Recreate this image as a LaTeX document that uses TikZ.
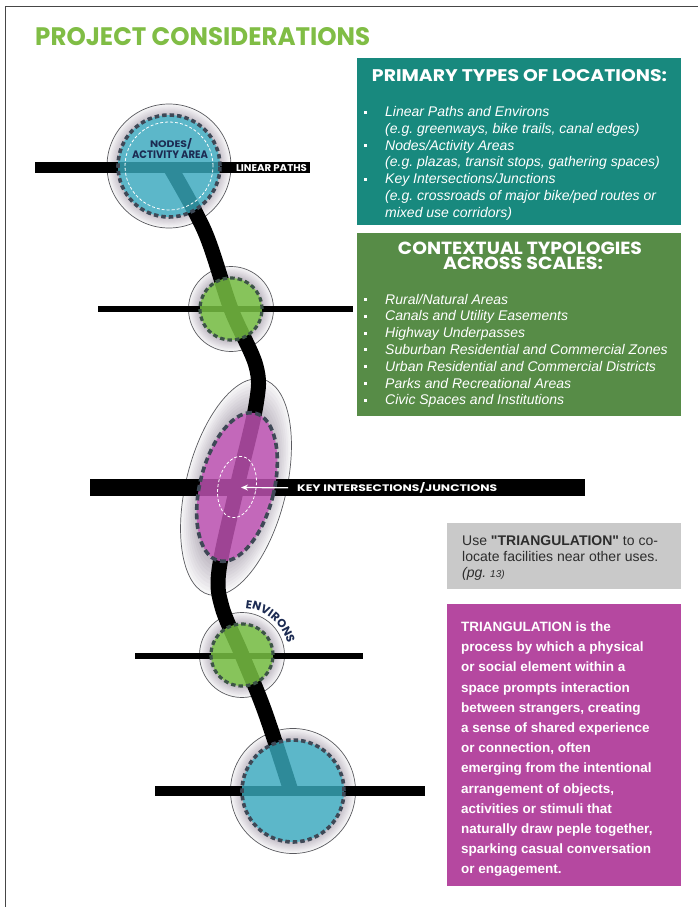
\documentclass[tikz,border=0pt]{standalone}
\usepackage{graphicx}
\usepackage{fontspec}
\setmainfont{Liberation Sans}
\newfontfamily\geo{Poppins}
\newfontfamily\arialtext{Liberation Sans}
\usetikzlibrary{arrows.meta,decorations.text,calc}
\frenchspacing

\definecolor{titlegreen}{RGB}{128,189,69}
\definecolor{tealbox}{RGB}{24,137,126}
\definecolor{greenbox}{RGB}{87,140,71}
\definecolor{graybox}{RGB}{201,201,201}
\definecolor{pinkbox}{RGB}{181,72,160}
\definecolor{navy}{RGB}{28,43,82}
\definecolor{dashc}{RGB}{62,72,86}
\definecolor{dashg}{RGB}{60,84,70}
\definecolor{haloc}{RGB}{168,160,174}
\definecolor{ringc}{RGB}{90,90,95}
\definecolor{blueA}{RGB}{62,185,205}
\definecolor{greenA}{RGB}{125,200,70}
\definecolor{pinkA}{RGB}{198,86,185}
\definecolor{framec}{RGB}{70,70,70}
\definecolor{graytext}{RGB}{45,45,45}

% soft grey glow: stacked ellipses getting darker towards the inside
% #1 centre, #2/#3 outer radii (pt), #4 inner/outer ratio
\newcommand\drawglow[4]{%
  \foreach \k in {0,...,10}{%
    \pgfmathsetmacro\gf{1-(1-#4)*\k/10}%
    \pgfmathsetmacro\grx{#2*\gf}%
    \pgfmathsetmacro\gry{#3*\gf}%
    \pgfmathtruncatemacro\gp{10+7*\k}%
    \fill[haloc!\gp!white] (#1) ellipse[x radius=\grx pt, y radius=\gry pt];
  }}

\tikzset{
  road/.style={line width=#1, black},
  ringline/.style={draw=ringc, line width=0.7pt},
  dashring/.style={draw=dashc, line width=3.6pt, dash pattern=on 4.5pt off 3pt},
  dashringg/.style={draw=dashg, line width=3.2pt, dash pattern=on 4.5pt off 3pt},
  whitedash/.style={draw=white, line width=0.8pt, dash pattern=on 3pt off 2pt},
  capslabel/.style={inner sep=0pt, anchor=base},
  listtext/.style={anchor=base west, inner sep=0pt, text=white, font=\fontsize{14}{16}\selectfont\itshape},
  pinktext/.style={anchor=base west, inner sep=0pt, text=white, font=\fontsize{13.5}{16}\selectfont\bfseries},
  graytxt/.style={anchor=base west, inner sep=0pt, text=graytext, font=\arialtext\fontsize{14}{16}\selectfont},
}

\begin{document}
\begin{tikzpicture}[x=1pt,y=-1pt]
\useasboundingbox (0,0) rectangle (698,907);
\fill[white] (0,0) rectangle (698,907);

% page frame
\draw[framec, line width=1pt] (5,907) -- (5,7) -- (698,7);

% title
\node[capslabel, anchor=base west, text=titlegreen] (title) at (35,45.5)
  {\resizebox{335pt}{18pt}{\geo\bfseries PROJECT CONSIDERATIONS}};

% centres of the places along the route
\coordinate (c1) at (169,166);
\coordinate (c2) at (231,309);
\coordinate (c3) at (237,487);
\coordinate (c4) at (242,655);
\coordinate (c5) at (293,791);
\coordinate (ix) at (241,487.5);

% glows and outer rings
\drawglow{c1}{62}{62}{0.8}
\draw[ringline] (c1) circle[radius=62pt];
\drawglow{c2}{42.5}{42.5}{0.72}
\draw[ringline] (c2) circle[radius=42.5pt];
\begin{scope}[shift={(236,487)}, rotate=-14]
  \drawglow{0,0}{50}{111}{0.68}
  \draw[ringline] (0,0) ellipse[x radius=50pt, y radius=111pt];
\end{scope}
\drawglow{c4}{42.5}{42.5}{0.72}
\draw[ringline] (c4) circle[radius=42.5pt];
\drawglow{c5}{62.5}{62.5}{0.8}
\draw[ringline] (c5) circle[radius=62.5pt];

% cross paths
\draw[road=11pt] (35,167) -- (310,167);
\draw[road=5.5pt] (98,309) -- (353,309);
\draw[road=17pt] (90,487.5) -- (585,487.5);
\draw[road=5.5pt] (135,656) -- (363,656);
\draw[road=10pt] (155,791) -- (425,791);

% main route
\draw[black, line width=15pt] plot[smooth, tension=0.55] coordinates
  {(170,167) (205,232) (231,309) (256,366) (256,405) (237,487) (219,570) (222,607) (242,655) (265,712) (291,791)};

% tinted areas
\fill[blueA, opacity=0.75] (c1) circle[radius=51pt];
\fill[greenA, opacity=0.82] (c2) circle[radius=31pt];
\begin{scope}[shift={(c3)}, rotate=-14]
  \fill[pinkA, opacity=0.8] (0,0) ellipse[x radius=37pt, y radius=76pt];
  \draw[dashring, dash pattern=on 6pt off 3.5pt] (0,0) ellipse[x radius=37pt, y radius=76pt];
\end{scope}
\fill[greenA, opacity=0.82] (c4) circle[radius=31pt];
\fill[blueA, opacity=0.75] (c5) circle[radius=51pt];

% dashed edges
\draw[dashring] (c1) circle[radius=51pt];
\draw[dashringg] (c2) circle[radius=31pt];
\draw[dashringg] (c4) circle[radius=31pt];
\draw[dashring] (c5) circle[radius=51pt];
\draw[whitedash] (c1) circle[radius=44pt];
\begin{scope}[shift={(c3)}, rotate=-10]
  \draw[whitedash] (0,0) ellipse[x radius=19pt, y radius=31pt];
\end{scope}

% labels on the diagram
\node[capslabel, text=navy] (nodes1) at (171,147.5)
  {\resizebox{42pt}{9pt}{\geo\bfseries NODES/}};
\node[capslabel, text=navy] (nodes2) at (170,158.3)
  {\resizebox{76pt}{7.7pt}{\geo\bfseries ACTIVITY AREA}};
\node[capslabel, text=white] (linear) at (271.5,171)
  {\resizebox{71pt}{7pt}{\geo\bfseries LINEAR PATHS}};
\node[capslabel, anchor=base west, text=white] (keylbl) at (297,491.5)
  {\resizebox{200pt}{9pt}{\geo\bfseries KEY INTERSECTIONS/JUNCTIONS}};
\draw[white, line width=1.2pt, shorten <=9pt, -{Stealth[length=7pt,width=6pt]}] (keylbl.west) -- (ix);

\path[decorate, decoration={text along path,
    text={|\geo\bfseries\fontsize{11.5}{14}\selectfont|ENVIRONS},
    text align=center, text color=navy}]
  ($(c4)+(97:47pt)$) arc[start angle=97, end angle=3, radius=47pt];

% primary types box
\fill[tealbox] (357,58) rectangle (681,225);
\node[capslabel, text=white] (tealhead) at (519.5,81.7)
  {\resizebox{295pt}{12pt}{\geo\bfseries PRIMARY TYPES OF LOCATIONS:}};
\foreach \bul/\txt [count=\i from 0] in {
    1/{Linear Paths and Environs},
    0/{(e.g. greenways, bike trails, canal edges)},
    1/{Nodes/Activity Areas},
    0/{(e.g. plazas, transit stops, gathering spaces)},
    1/{Key Intersections/Junctions},
    0/{(e.g. crossroads of major bike/ped routes or},
    0/{mixed use corridors)}} {
  \node[listtext] (tl\i) at (385,116.5+16.8*\i) {\txt};
  \ifnum\bul=1 \fill[white] (363.5,110.5+16.8*\i) rectangle ++(3,3); \fi
}

% contextual typologies box
\fill[greenbox] (357,233) rectangle (681,416);
\node[capslabel, text=white] (greenhead1) at (520,254.5)
  {\resizebox{244pt}{12.5pt}{\geo\bfseries CONTEXTUAL TYPOLOGIES}};
\node[capslabel, text=white] (greenhead2) at (523,269.5)
  {\resizebox{160pt}{12.5pt}{\geo\bfseries ACROSS SCALES:}};
\foreach \txt [count=\i from 0] in {
    {Rural/Natural Areas},
    {Canals and Utility Easements},
    {Highway Underpasses},
    {Suburban Residential and Commercial Zones},
    {Urban Residential and Commercial Districts},
    {Parks and Recreational Areas},
    {Civic Spaces and Institutions}} {
  \node[listtext] (gl\i) at (385,304+16.83*\i) {\txt};
  \fill[white] (363.5,298+16.83*\i) rectangle ++(3,3);
}

% note box
\fill[graybox] (447,523) rectangle (681,589);
\node[graytxt] (g1) at (462,545) {Use \textbf{"TRIANGULATION"} to co-};
\node[graytxt] (g2) at (462,561.5) {locate facilities near other uses.};
\node[graytxt] (g3) at (462,577) {\textit{(pg.} {\fontsize{10}{12}\selectfont\textit{13)}}};

% triangulation box
\fill[pinkbox] (447,604) rectangle (681,886);
\foreach \txt [count=\i from 0] in {
    {TRIANGULATION is the},
    {process by which a physical},
    {or social element within a},
    {space prompts interaction},
    {between strangers, creating},
    {a sense of shared experience},
    {or connection, often},
    {emerging from the intentional},
    {arrangement of objects,},
    {activities or stimuli that},
    {naturally draw peple together,},
    {sparking casual conversation},
    {or engagement.}} {
  \node[pinktext] (pk\i) at (461,631.5+20.2*\i) {\txt};
}
\end{tikzpicture}
\end{document}
